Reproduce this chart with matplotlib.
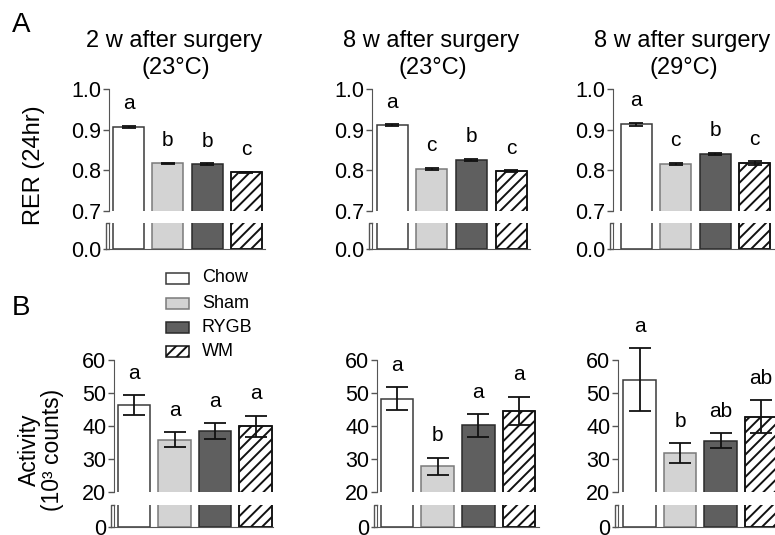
import matplotlib
matplotlib.use('Agg')
import matplotlib.pyplot as plt
from matplotlib.patches import Rectangle
from matplotlib.lines import Line2D

plt.rcParams['font.family'] = ['Liberation Sans', 'DejaVu Sans']
plt.rcParams['hatch.linewidth'] = 1.4
plt.rcParams['hatch.color'] = '#111111'

W, H = 775, 535

groups = ['Chow', 'Sham', 'RYGB', 'WM']
fills = ['white', '#d3d3d3', '#5f5f5f', 'white']
edges = ['#3a3a3a', '#7a7a7a', '#2a2a2a', '#111111']
hatches = [None, None, None, '///']

titles = ['2 w after surgery', '8 w after surgery', '8 w after surgery']
temps = ['(23°C)', '(23°C)', '(29°C)']

# RER (24hr)
rer_2w = [0.907, 0.817, 0.815, 0.795]
rer_2w_err = [0.003, 0.002, 0.002, 0.001]
rer_2w_sig = ['a', 'b', 'b', 'c']
rer_8w23 = [0.911, 0.804, 0.826, 0.798]
rer_8w23_err = [0.002, 0.002, 0.002, 0.002]
rer_8w23_sig = ['a', 'c', 'b', 'c']
rer_8w29 = [0.913, 0.816, 0.840, 0.818]
rer_8w29_err = [0.004, 0.003, 0.003, 0.004]
rer_8w29_sig = ['a', 'c', 'b', 'c']

# Activity (10^3 counts)
act_2w = [46.3, 35.8, 38.5, 39.9]
act_2w_err = [3.0, 2.3, 2.3, 3.2]
act_2w_sig = ['a', 'a', 'a', 'a']
act_8w23 = [48.3, 27.8, 40.2, 44.6]
act_8w23_err = [3.5, 2.6, 3.4, 4.3]
act_8w23_sig = ['a', 'b', 'a', 'a']
act_8w29 = [54.0, 31.7, 35.6, 42.8]
act_8w29_err = [9.5, 3.0, 2.2, 5.0]
act_8w29_sig = ['a', 'b', 'ab', 'ab']

rer_data = [(rer_2w, rer_2w_err, rer_2w_sig),
            (rer_8w23, rer_8w23_err, rer_8w23_sig),
            (rer_8w29, rer_8w29_err, rer_8w29_sig)]
act_data = [(act_2w, act_2w_err, act_2w_sig),
            (act_8w23, act_8w23_err, act_8w23_sig),
            (act_8w29, act_8w29_err, act_8w29_sig)]

SPINE = '#555555'


def rect(x0, x1, ytop, ybot):
    return [x0 / W, 1 - ybot / H, (x1 - x0) / W, (ybot - ytop) / H]


def fpt(x, y):
    return x / W, 1 - y / H


def panel(fig, col, vals, errs, sig, upper_y, lower_y, ylim, yticks, fmt,
          zero_lbl, barw_px, capsize):
    spine, c0, sp, end = col
    xlim = (-(c0 - spine) / sp, (end - c0) / sp)
    bw = barw_px / sp
    xs = range(len(vals))

    ax = fig.add_axes(rect(spine, end, *upper_y))
    lo = fig.add_axes(rect(spine, end, *lower_y))
    for a in (ax, lo):
        a.set_xlim(*xlim)
        a.set_xticks([])
        a.patch.set_visible(False)
        for s in ('top', 'right'):
            a.spines[s].set_visible(False)
        a.spines['left'].set_color(SPINE)
        a.tick_params(axis='y', length=4, width=1, color=SPINE, pad=1.5,
                      labelsize=15.5)
    ax.spines['bottom'].set_visible(False)
    lo.spines['bottom'].set_color(SPINE)

    ax.set_ylim(*ylim)
    ax.set_yticks(yticks)
    ax.set_yticklabels([fmt.format(t) for t in yticks])
    lo.set_ylim(0, 1e-3)
    lo.set_yticks([0])
    lo.set_yticklabels([zero_lbl])

    for a in (ax, lo):
        a.bar(xs, vals, width=bw, color=fills, edgecolor=edges,
              hatch=None, linewidth=1.1, zorder=2)
        for i, h in enumerate(hatches):
            if h:
                a.bar(i, vals[i], width=bw, color='none', edgecolor=edges[i],
                      hatch=h, linewidth=1.1, zorder=2)
    ax.errorbar(xs, vals, yerr=errs, fmt='none', ecolor='#111111',
                elinewidth=1.3, capsize=capsize, capthick=1.3,
                clip_on=False, zorder=3)
    for i, s in enumerate(sig):
        ax.annotate(s, (i, vals[i] + errs[i]), xytext=(0, 9),
                    textcoords='offset points', ha='center', va='bottom',
                    fontsize=15, annotation_clip=False)

    # break mark on the lower spine
    x0 = spine - 3
    fig.add_artist(Line2D([x0 / W, x0 / W, spine / W],
                          [1 - lower_y[1] / H, 1 - lower_y[0] / H, 1 - lower_y[0] / H],
                          color=SPINE, lw=1))
    return ax, lo


fig = plt.figure(figsize=(7.75, 5.35), dpi=100)

top_cols = [(109, 128.5, 39.3, 265), (372, 392, 39.7, 530), (613, 636, 39.5, 774)]
bot_cols = [(114, 134, 40.5, 273), (377, 397, 40.7, 539), (618, 639.5, 40.5, 780)]
title_x = [174, 431, 682]

for k in range(3):
    vals, errs, sig = rer_data[k]
    panel(fig, top_cols[k], vals, errs, sig, (89, 211), (223, 249),
          (0.7, 1.0), [0.7, 0.8, 0.9, 1.0], '{:.1f}', '0.0', 31, 5)
    vals, errs, sig = act_data[k]
    panel(fig, bot_cols[k], vals, errs, sig, (360, 492), (505, 527),
          (20, 60), [20, 30, 40, 50, 60], '{:d}', '0', 32.5, 8)
    fig.text(*fpt(title_x[k], 47), titles[k], ha='center', va='baseline',
             fontsize=17)
    fig.text(*fpt(title_x[k] + 2, 74), temps[k], ha='center', va='baseline',
             fontsize=17)

fig.text(*fpt(34, 165), 'RER (24hr)', rotation=90, ha='center', va='center',
         fontsize=17)
fig.text(*fpt(41, 450), 'Activity\n(10³ counts)', rotation=90, ha='center',
         va='center', fontsize=16.5, linespacing=1.05, multialignment='center')
fig.text(*fpt(12, 32), 'A', ha='left', va='baseline', fontsize=20)
fig.text(*fpt(12, 315), 'B', ha='left', va='baseline', fontsize=20)

# legend
rows = [278, 303, 327, 351]
for i, g in enumerate(groups):
    x0, y0 = fpt(166, rows[i] + 5.5)
    fig.add_artist(Rectangle((x0, y0), 23 / W, 11 / H, transform=fig.transFigure,
                             facecolor=fills[i], edgecolor=edges[i],
                             hatch=hatches[i], linewidth=1.1))
    fig.text(*fpt(202, rows[i]), g, ha='left', va='center', fontsize=13)

fig.savefig('out.png', dpi=100)
